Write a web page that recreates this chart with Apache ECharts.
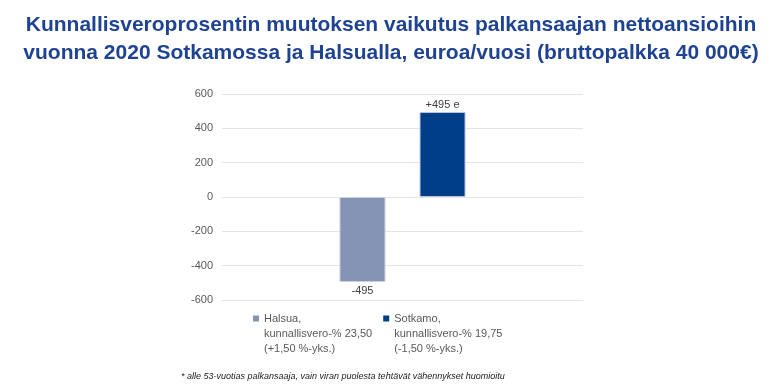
<!DOCTYPE html>
<html><head><meta charset="utf-8">
<script src="https://cdn.jsdelivr.net/npm/echarts@6/dist/echarts.min.js"></script>
<style>html,body{margin:0;padding:0;background:#fff}#c{width:770px;height:391px}</style>
</head><body><div id="c"></div>
<script>
const categories = [''];
const seriesNames = ['Halsua,\nkunnallisvero-% 23,50\n(+1,50 %-yks.)', 'Sotkamo,\nkunnallisvero-% 19,75\n(-1,50 %-yks.)'];
const halsuaValues = [-495];
const sotkamoValues = [495];
const yTicks = [-600, -400, -200, 0, 200, 400, 600];
const labelTexts = ['-495', '+495 e'];

const chart = echarts.init(document.getElementById('c'), null, {renderer: 'canvas'});
const font = 'Arial, "Liberation Sans", sans-serif';
// legend icon: small square at the top of a tall invisible box so it lines up with the first text line
const topSquareIcon = 'path://M0,0L6,0L6,6L0,6Z M0,35.99L0.01,36L0,36Z';
chart.setOption({
  animation: false,
  title: {
    text: 'Kunnallisveroprosentin muutoksen vaikutus palkansaajan nettoansioihin\nvuonna 2020 Sotkamossa ja Halsualla, euroa/vuosi (bruttopalkka 40 000€)',
    left: 386, top: 6, textAlign: 'center',
    textStyle: {color: '#1F4393', fontSize: 21, fontWeight: 'bold', fontFamily: font, lineHeight: 28}
  },
  grid: {left: 222, right: 187, top: 94, bottom: 91},
  xAxis: {type: 'category', data: categories, axisLine: {show: false}, axisTick: {show: false}, axisLabel: {show: false}},
  yAxis: {
    type: 'value', min: yTicks[0], max: yTicks[yTicks.length - 1], interval: 200,
    axisLine: {show: false}, axisTick: {show: false},
    splitLine: {lineStyle: {color: '#E4E4E4', width: 1}},
    axisLabel: {color: '#595959', fontSize: 11, fontFamily: font, margin: 9}
  },
  legend: {
    left: 248, top: 306, orient: 'horizontal', itemGap: 11,
    icon: topSquareIcon, itemWidth: 6, itemHeight: 36, symbolKeepAspect: true,
    itemStyle: {borderWidth: 0},
    textStyle: {color: '#595959', fontSize: 11, fontFamily: font, lineHeight: 15},
    data: seriesNames
  },
  series: [
    {
      name: seriesNames[0], type: 'bar', data: halsuaValues, barWidth: 46, barGap: '74%',
      itemStyle: {color: '#8593B5', borderColor: '#C9D1E3', borderWidth: 1},
      label: {show: true, position: 'bottom', distance: 3, formatter: () => labelTexts[0], color: '#404040', fontSize: 11, fontFamily: font}
    },
    {
      name: seriesNames[1], type: 'bar', data: sotkamoValues, barWidth: 46,
      itemStyle: {color: '#003F87', borderColor: '#B9C6DE', borderWidth: 1},
      label: {show: true, position: 'top', distance: 2, formatter: () => labelTexts[1], color: '#404040', fontSize: 11, fontFamily: font}
    }
  ],
  graphic: [{
    type: 'text', left: 181, top: 372,
    style: {text: '* alle 53-vuotias palkansaaja, vain viran puolesta tehtävät vähennykset huomioitu', fill: '#222', fontSize: 9, fontStyle: 'italic', fontFamily: font}
  }]
});
</script></body></html>
